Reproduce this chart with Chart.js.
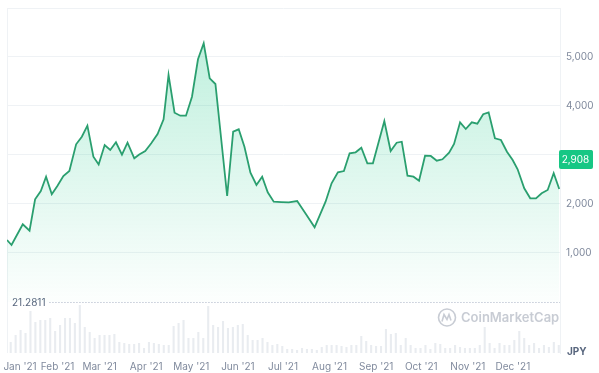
<!DOCTYPE html>
<html>
<head>
<meta charset="utf-8">
<script src="https://cdn.jsdelivr.net/npm/chart.js@4.4.1/dist/chart.umd.min.js"></script>
<style>
  html, body { margin: 0; padding: 0; background: #fff; }
  #wrap { width: 599px; height: 373px; position: relative; }
</style>
</head>
<body>
<div id="wrap"><canvas id="chart"></canvas></div>
<script>
// --- Data ---
// day index from 1 Jan 2021
const priceDays = [0, 3, 10.5, 15, 18.7, 22.5, 26, 29.8, 33.5, 37.5, 41.5, 46, 49.8, 53.5, 57.5, 61,
  65, 68.7, 72.5, 76.5, 80.2, 84.7, 88, 92, 96, 100.2, 104.2, 107.5, 111.5, 115.3, 119.1, 123.1,
  127.1, 130.9, 134.9, 138.7, 146.5, 150.5, 154.2, 158, 162, 166, 169.8, 173.5, 177.5, 182.5,
  187.5, 193.1, 199, 204.7, 212, 216, 220.2, 224.2, 228, 232, 235.8, 239.8, 243.5, 251.1, 255.3,
  259.3, 262.7, 266.5, 270.5, 274.2, 278.2, 282, 286, 289.8, 294.2, 297.5, 301.5, 305.3, 309.3,
  313, 316.9, 320.5, 324.7, 328.7, 332.7, 336.5, 339.8, 344.2, 348.2, 352, 355.8, 359.8, 363.8, 367.5];
const priceValues = [1265, 1163, 1586, 1455, 2096, 2265, 2557, 2198, 2367, 2571, 2673, 3218, 3373, 3598, 2965, 2806,
  3204, 3102, 3259, 3006, 3251, 2933, 3010, 3082, 3239, 3429, 3729, 4633, 3863, 3802, 3802, 4190,
  4953, 5280, 4565, 4449, 2163, 3476, 3524, 3169, 2639, 2388, 2557, 2239, 2047, 2040,
  2035, 2061, 1790, 1524, 2047, 2422, 2647, 2673, 3035, 3055, 3149, 2831, 2831, 3694, 3082,
  3251, 3271, 2578, 2557, 2476, 2986, 2980, 2884, 2912, 3047, 3224, 3667, 3531, 3667,
  3639, 3831, 3871, 3341, 3306, 3067, 2898, 2708, 2320, 2116, 2116, 2218, 2286, 2627, 2306];

const volumeValues = [11, 18, 23, 20, 42, 31, 33, 33, 35, 22, 28, 35, 35, 30, 48, 26, 21, 15, 18, 18,
  18, 19, 11, 10, 9, 9, 10, 5, 11, 10, 9, 8, 8, 27, 30, 33, 15, 15, 21, 15,
  47, 28, 26, 32, 25, 26, 28, 29, 18, 13, 13, 15, 11, 8, 9, 7,
  4, 4, 3, 5, 4, 4, 3, 6, 8, 8, 8, 7, 6, 8, 8,
  17, 12, 8, 7, 7, 24, 19, 20, 8, 15, 8, 5, 5, 8, 4,
  10, 9, 5, 5, 8, 6, 5, 5, 5, 8, 26, 10, 5, 10, 8, 8, 13, 22, 15, 8,
  10, 5, 8, 6, 11, 8];

const monthTickDays = [6, 31, 59, 90, 120, 151, 181, 212, 243, 273, 304, 334];
const monthLabels = ["Jan '21", "Feb '21", "Mar '21", "Apr '21", "May '21", "Jun '21",
  "Jul '21", "Aug '21", "Sep '21", "Oct '21", "Nov '21", "Dec '21"];
const priceTicks = [1000, 2000, 3000, 4000, 5000, 6000];
const lastPrice = 2908;
const volumeMaxLabel = '21.2811';
const currency = 'JPY';

const GREEN = '#16c784';
const GRID = '#eff2f5';
const FONT = 'Inter, "Noto Sans", sans-serif';

// --- Overlays: dotted base line, watermark, last price badge ---
const overlayPlugin = {
  id: 'overlay',
  beforeDatasetsDraw(chart) {
    const { ctx, chartArea: a, scales } = chart;
    const y0 = Math.round(scales.y.getPixelForValue(0)) + 0.5;
    ctx.save();
    // left frame line
    ctx.strokeStyle = GRID;
    ctx.lineWidth = 1;
    ctx.beginPath();
    ctx.moveTo(a.left + 0.5, a.top);
    ctx.lineTo(a.left + 0.5, a.bottom);
    ctx.stroke();
    // dotted line with label
    ctx.font = '10px ' + FONT;
    ctx.fillStyle = '#58667e';
    ctx.textBaseline = 'middle';
    ctx.fillText(volumeMaxLabel, a.left + 5, y0);
    const w = ctx.measureText(volumeMaxLabel).width;
    ctx.strokeStyle = '#a6b0c3';
    ctx.setLineDash([1, 2]);
    ctx.beginPath();
    ctx.moveTo(a.left + 9 + w, y0);
    ctx.lineTo(a.right, y0);
    ctx.stroke();
    ctx.setLineDash([]);
    // watermark
    const wx = a.right - 113, wy = y0 + 15;
    ctx.strokeStyle = '#c8ccd4';
    ctx.lineWidth = 1.6;
    ctx.beginPath();
    ctx.arc(wx, wy, 8.5, 0, Math.PI * 2);
    ctx.stroke();
    ctx.beginPath();
    ctx.moveTo(wx - 5, wy + 4);
    ctx.lineTo(wx - 3, wy - 3);
    ctx.lineTo(wx, wy + 2);
    ctx.lineTo(wx + 2, wy - 3);
    ctx.lineTo(wx + 4, wy + 3);
    ctx.stroke();
    ctx.fillStyle = '#c8ccd4';
    ctx.font = '600 13px ' + FONT;
    ctx.textAlign = 'left';
    ctx.fillText('CoinMarketCap', wx + 14, wy + 1);
    ctx.restore();
  },
  afterDraw(chart) {
    const { ctx, chartArea: a, scales } = chart;
    const y = scales.y.getPixelForValue(lastPrice);
    ctx.save();
    ctx.fillStyle = GREEN;
    ctx.beginPath();
    ctx.roundRect(a.right - 1, y - 9.5, 34, 19, 2);
    ctx.fill();
    ctx.fillStyle = '#fff';
    ctx.font = '10px ' + FONT;
    ctx.textAlign = 'center';
    ctx.textBaseline = 'middle';
    ctx.fillText(lastPrice.toLocaleString('en-US'), a.right + 15.5, y + 0.5);
    // currency label
    ctx.fillStyle = '#58667e';
    ctx.font = 'bold 10px ' + FONT;
    ctx.textAlign = 'left';
    ctx.fillText(currency, a.right + 7, a.bottom - 1);
    ctx.restore();
  }
};

new Chart(document.getElementById('chart'), {
  data: {
    datasets: [
      {
        type: 'line',
        data: priceDays.map((d, i) => ({ x: d, y: priceValues[i] })),
        xAxisID: 'x',
        yAxisID: 'y',
        borderColor: '#2a9f6f',
        borderWidth: 1.8,
        pointRadius: 0,
        tension: 0,
        fill: { value: 0 },
        backgroundColor: (c) => {
          const chart = c.chart;
          const { ctx, chartArea, scales } = chart;
          if (!chartArea) return 'rgba(22,199,132,0.15)';
          const g = ctx.createLinearGradient(0, chartArea.top, 0, scales.y.getPixelForValue(0));
          g.addColorStop(0, 'rgba(22,199,132,0.30)');
          g.addColorStop(1, 'rgba(22,199,132,0.01)');
          return g;
        },
        order: 0
      },
      {
        type: 'bar',
        data: volumeValues,
        xAxisID: 'xv',
        yAxisID: 'yv',
        backgroundColor: '#e9ecf0',
        barPercentage: 0.85,
        categoryPercentage: 1,
        order: 1
      }
    ]
  },
  options: {
    responsive: true,
    maintainAspectRatio: false,
    animation: false,
    layout: { padding: { left: 7, top: 8, right: 0, bottom: 0 } },
    plugins: { legend: { display: false }, tooltip: { enabled: false } },
    scales: {
      x: {
        type: 'linear',
        min: 0,
        max: 368,
        afterBuildTicks: (s) => { s.ticks = monthTickDays.map(v => ({ value: v })); },
        afterFit: (s) => { s.height = 20; s.paddingLeft = 0; s.paddingRight = 0; },
        grid: { display: false, drawTicks: false },
        border: { display: false },
        ticks: {
          autoSkip: false,
          maxRotation: 0,
          padding: 8,
          labelOffset: 4,
          color: '#808a9d',
          font: { family: FONT, size: 10 },
          callback: (v) => monthLabels[monthTickDays.indexOf(v)]
        }
      },
      xv: {
        type: 'category',
        labels: volumeValues.map((_, i) => String(i)),
        display: false,
        offset: true
      },
      y: {
        position: 'right',
        min: -1041,
        max: 6000,
        afterBuildTicks: (s) => { s.ticks = priceTicks.map(v => ({ value: v })); },
        afterFit: (s) => { s.width = 39; s.paddingTop = 0; s.paddingBottom = 0; },
        grid: { color: GRID, drawTicks: false },
        border: { display: true, color: GRID },
        ticks: {
          padding: 6,
          color: '#808a9d',
          font: { family: FONT, size: 10 },
          callback: (v) => (v === 6000 ? '' : v.toLocaleString('en-US'))
        }
      },
      yv: {
        display: false,
        min: 0,
        max: 345
      }
    }
  },
  plugins: [overlayPlugin]
});
</script>
</body>
</html>
